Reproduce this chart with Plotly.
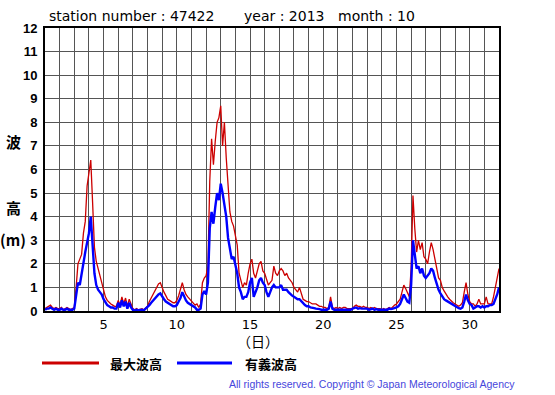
import plotly.graph_objects as go

# ---- data (3-hourly readings, October 2013, station 47422) ----
hours = [0, 3, 6, 9, 12, 15, 18, 21]
days = list(range(1, 32))

max_wave = [
    0.10, 0.15, 0.20, 0.25, 0.15, 0.10, 0.15, 0.10,   # 1
    0.10, 0.15, 0.05, 0.10, 0.15, 0.10, 0.05, 0.10,   # 2
    0.15, 1.00, 2.00, 2.20, 2.40, 3.30, 3.80, 5.30,   # 3
    5.80, 6.40, 4.60, 2.70, 2.10, 1.80, 1.50, 1.30,   # 4
    0.90, 0.60, 0.45, 0.35, 0.30, 0.25, 0.20, 0.20,   # 5
    0.45, 0.25, 0.60, 0.30, 0.55, 0.20, 0.50, 0.30,   # 6
    0.10, 0.05, 0.10, 0.05, 0.08, 0.10, 0.05, 0.15,   # 7
    0.20, 0.40, 0.55, 0.70, 0.80, 0.95, 1.15, 1.20,   # 8
    0.95, 0.80, 0.65, 0.50, 0.45, 0.40, 0.35, 0.35,   # 9
    0.45, 0.65, 0.90, 1.20, 0.90, 0.70, 0.60, 0.50,   # 10
    0.40, 0.30, 0.25, 0.30, 0.15, 0.30, 1.20, 1.40,   # 11
    1.50, 1.90, 5.50, 7.30, 6.20, 7.20, 8.00, 8.20,   # 12
    8.70, 7.00, 8.00, 6.50, 5.50, 4.20, 3.80, 3.60,   # 13
    3.20, 2.80, 1.60, 1.30, 1.00, 1.20, 1.10, 1.60,   # 14
    2.00, 2.20, 1.60, 1.40, 1.70, 2.00, 2.10, 1.70,   # 15
    1.60, 1.30, 1.10, 1.20, 1.30, 1.90, 1.60, 1.50,   # 16
    1.70, 1.80, 1.70, 1.50, 1.60, 1.40, 1.30, 1.20,   # 17
    1.00, 0.90, 0.80, 1.00, 0.70, 0.50, 0.45, 0.40,   # 18
    0.40, 0.35, 0.30, 0.30, 0.30, 0.25, 0.20, 0.20,   # 19
    0.15, 0.15, 0.10, 0.15, 0.60, 0.15, 0.10, 0.15,   # 20
    0.10, 0.15, 0.10, 0.15, 0.15, 0.10, 0.10, 0.10,   # 21
    0.10, 0.20, 0.25, 0.20, 0.20, 0.15, 0.20, 0.15,   # 22
    0.15, 0.10, 0.15, 0.10, 0.15, 0.10, 0.10, 0.10,   # 23
    0.05, 0.10, 0.05, 0.10, 0.15, 0.10, 0.20, 0.25,   # 24
    0.30, 0.40, 0.50, 0.80, 1.10, 0.95, 0.80, 0.60,   # 25
    1.80, 4.90, 3.50, 2.50, 3.00, 2.60, 2.90, 2.30,   # 26
    2.20, 2.00, 2.50, 2.90, 2.60, 2.20, 1.80, 1.40,   # 27
    1.30, 1.00, 0.85, 0.70, 0.60, 0.50, 0.40, 0.35,   # 28
    0.30, 0.25, 0.20, 0.25, 0.35, 0.80, 1.20, 0.70,   # 29
    0.40, 0.30, 0.30, 0.20, 0.30, 0.50, 0.30, 0.30,   # 30
    0.30, 0.60, 0.30, 0.30, 0.30, 0.60, 1.00, 1.30,   # 31
    1.80,                                             # 32 00h
]

sig_wave = [
    0.05, 0.10, 0.10, 0.15, 0.10, 0.05, 0.10, 0.05,   # 1
    0.05, 0.10, 0.05, 0.05, 0.10, 0.05, 0.05, 0.05,   # 2
    0.10, 0.70, 1.20, 1.10, 1.60, 2.20, 2.50, 2.90,   # 3
    3.30, 4.00, 3.00, 1.60, 1.10, 0.90, 0.80, 0.70,   # 4
    0.50, 0.35, 0.25, 0.20, 0.15, 0.15, 0.10, 0.10,   # 5
    0.35, 0.15, 0.45, 0.20, 0.40, 0.10, 0.35, 0.15,   # 6
    0.05, 0.03, 0.05, 0.03, 0.05, 0.05, 0.03, 0.10,   # 7
    0.15, 0.25, 0.35, 0.45, 0.50, 0.60, 0.70, 0.75,   # 8
    0.60, 0.50, 0.40, 0.35, 0.30, 0.25, 0.20, 0.20,   # 9
    0.25, 0.40, 0.55, 0.80, 0.60, 0.45, 0.35, 0.30,   # 10
    0.25, 0.20, 0.15, 0.05, 0.05, 0.10, 0.70, 0.85,   # 11
    0.70, 1.20, 3.50, 4.20, 3.70, 4.40, 5.00, 4.70,   # 12
    5.40, 5.00, 4.50, 4.00, 3.10, 2.60, 2.20, 2.30,   # 13
    1.90, 1.60, 1.00, 0.80, 0.50, 0.60, 0.60, 0.80,   # 14
    1.20, 1.40, 0.60, 0.80, 1.00, 1.30, 1.40, 1.20,   # 15
    1.10, 0.80, 0.60, 0.80, 1.00, 1.10, 1.00, 1.00,   # 16
    1.00, 1.10, 0.90, 0.90, 0.90, 0.80, 0.70, 0.65,   # 17
    0.60, 0.55, 0.50, 0.50, 0.40, 0.30, 0.25, 0.20,   # 18
    0.20, 0.15, 0.15, 0.12, 0.10, 0.10, 0.08, 0.05,   # 19
    0.05, 0.05, 0.05, 0.10, 0.40, 0.10, 0.05, 0.05,   # 20
    0.05, 0.05, 0.03, 0.05, 0.05, 0.03, 0.05, 0.05,   # 21
    0.10, 0.12, 0.15, 0.10, 0.12, 0.10, 0.10, 0.10,   # 22
    0.10, 0.05, 0.08, 0.10, 0.05, 0.08, 0.05, 0.05,   # 23
    0.05, 0.05, 0.03, 0.05, 0.10, 0.08, 0.10, 0.12,   # 24
    0.15, 0.20, 0.30, 0.50, 0.70, 0.55, 0.40, 0.35,   # 25
    1.10, 3.00, 2.40, 1.80, 1.90, 1.60, 1.80, 1.50,   # 26
    1.40, 1.50, 1.60, 1.80, 1.70, 1.40, 1.10, 0.90,   # 27
    0.75, 0.60, 0.50, 0.45, 0.40, 0.35, 0.30, 0.25,   # 28
    0.20, 0.15, 0.12, 0.10, 0.15, 0.40, 0.70, 0.45,   # 29
    0.30, 0.25, 0.10, 0.15, 0.20, 0.20, 0.15, 0.20,   # 30
    0.15, 0.20, 0.20, 0.25, 0.25, 0.30, 0.50, 0.70,   # 31
    1.00,                                             # 32 00h
]

x_tick_vals = [5, 10, 15, 20, 25, 30]
x_tick_text = ["5", "10", "15", "20", "25", "30"]
y_tick_vals = list(range(0, 13))

times = [d + h / 24 for d in days for h in hours] + [32.0]

RED = "#cc0000"
BLUE = "#0000ff"
GRID = "#555555"

fig = go.Figure()
fig.add_trace(go.Scatter(x=times, y=max_wave, mode="lines", name="最大波高",
                         line=dict(color=RED, width=1.3)))
fig.add_trace(go.Scatter(x=times, y=sig_wave, mode="lines", name="有義波高",
                         line=dict(color=BLUE, width=2.4)))

W, H = 555, 395
L, R, T, B = 45, 56, 28, 84
pw, ph = W - L - R, H - T - B


def px(x):
    return (x - L) / pw


def py(y):
    return (H - B - y) / ph


fig.update_layout(
    width=W, height=H,
    margin=dict(l=L, r=R, t=T, b=B, pad=0),
    paper_bgcolor="white", plot_bgcolor="white",
    showlegend=False,
    xaxis=dict(range=[1, 32], tickmode="array", tickvals=x_tick_vals, ticktext=x_tick_text,
               showgrid=True, gridcolor=GRID, gridwidth=1,
               minor=dict(tick0=1, dtick=1, showgrid=True, gridcolor=GRID, gridwidth=1),
               showline=True, linecolor="black", linewidth=2, mirror=True,
               ticks="", ticklabelstandoff=0, zeroline=False,
               tickfont=dict(family="DejaVu Sans", size=13, color="black")),
    yaxis=dict(range=[0, 12], tickmode="array", tickvals=y_tick_vals,
               showgrid=True, gridcolor=GRID, gridwidth=1,
               showline=True, linecolor="black", linewidth=2, mirror=True,
               ticks="", ticklabelstandoff=3, zeroline=False,
               tickfont=dict(family="Liberation Sans", size=13, color="black", weight="bold")),
)

ann = []
title_font = dict(family="DejaVu Sans", size=14, color="black")
for txt, x0 in [("station number : 47422", 47), ("year : 2013", 242), ("month : 10", 336)]:
    ann.append(dict(text=txt, x=px(x0), y=py(16), xref="paper", yref="paper",
                    xanchor="left", yanchor="middle", showarrow=False, font=title_font))

jp_bold = dict(family="Noto Sans CJK JP", size=15, color="black", weight="bold")
for txt, yy in [("波", 141), ("高", 207), ("(m)", 239)]:
    ann.append(dict(text=txt, x=px(13), y=py(yy), xref="paper", yref="paper",
                    xanchor="center", yanchor="middle", showarrow=False, font=jp_bold))

ann.append(dict(text="（日）", x=px(258), y=py(341), xref="paper", yref="paper",
                xanchor="center", yanchor="middle", showarrow=False,
                font=dict(family="Noto Sans CJK JP", size=14, color="black")))

leg_font = dict(family="Noto Sans CJK JP", size=13, color="black", weight="bold")
ann.append(dict(text="最大波高", x=px(108), y=py(363), xref="paper", yref="paper",
                xanchor="left", yanchor="middle", showarrow=False, font=leg_font))
ann.append(dict(text="有義波高", x=px(243), y=py(363), xref="paper", yref="paper",
                xanchor="left", yanchor="middle", showarrow=False, font=leg_font))

ann.append(dict(text="All rights reserved. Copyright © Japan Meteorological Agency",
                x=px(517), y=py(384), xref="paper", yref="paper",
                xanchor="right", yanchor="middle", showarrow=False,
                font=dict(family="Liberation Sans", size=10.5, color="#4646dc")))

fig.update_layout(annotations=ann)

fig.add_shape(type="line", xref="paper", yref="paper", x0=px(42), x1=px(99),
              y0=py(363), y1=py(363), line=dict(color=RED, width=3))
fig.add_shape(type="line", xref="paper", yref="paper", x0=px(177), x1=px(232),
              y0=py(363), y1=py(363), line=dict(color=BLUE, width=3))

fig.write_html("out.html", config={"displayModeBar": False},
               post_script="document.body.style.margin='0';")
